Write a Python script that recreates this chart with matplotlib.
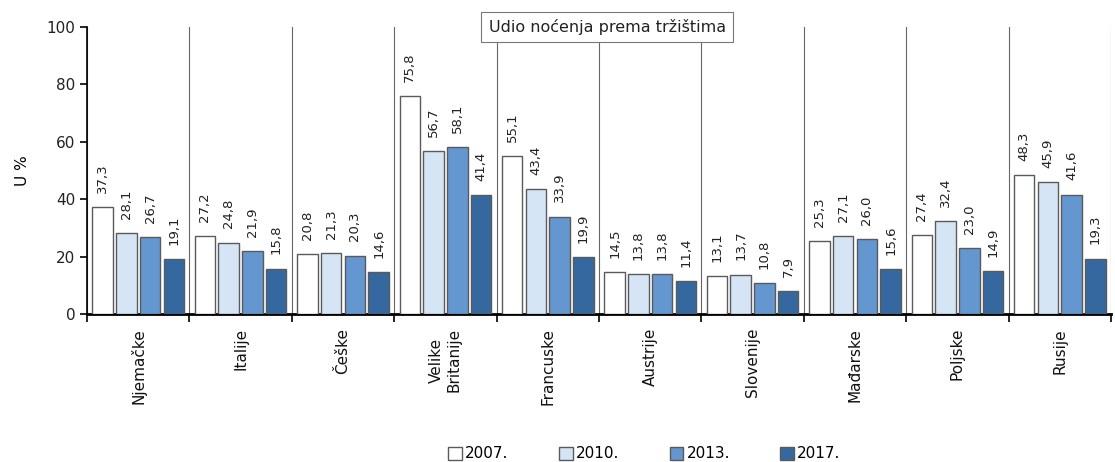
import numpy as np
import matplotlib
matplotlib.use('Agg')
from matplotlib import pyplot as plt

countries = ['Njemačke', 'Italije', 'Češke', 'Velike\nBritanije', 'Francuske',
             'Austrije', 'Slovenije', 'Mađarske', 'Poljske', 'Rusije']
years = ['2007.', '2010.', '2013.', '2017.']
v2007 = [37.3, 27.2, 20.8, 75.8, 55.1, 14.5, 13.1, 25.3, 27.4, 48.3]
v2010 = [28.1, 24.8, 21.3, 56.7, 43.4, 13.8, 13.7, 27.1, 32.4, 45.9]
v2013 = [26.7, 21.9, 20.3, 58.1, 33.9, 13.8, 10.8, 26.0, 23.0, 41.6]
v2017 = [19.1, 15.8, 14.6, 41.4, 19.9, 11.4, 7.9, 15.6, 14.9, 19.3]

COLORS = ['#ffffff', '#d5e5f5', '#6496cf', '#35689e']

fig = plt.figure(figsize=(11.15, 4.62), dpi=100)
ax = fig.add_axes([87 / 1115, 1 - 314 / 462, 1024 / 1115, 287 / 462])

x = np.arange(len(countries))
width = 0.2
step = 0.232
for i, vals in enumerate([v2007, v2010, v2013, v2017]):
    pos = x + (i - 1.5) * step
    ax.bar(pos, vals, width, color=COLORS[i], edgecolor='#5a5a5a',
           linewidth=1.0, label=years[i], zorder=3)
    for px, v in zip(pos, vals):
        ax.text(px, v + 5.0, ('%.1f' % v).replace('.', ','), rotation=90,
                ha='center', va='bottom', fontsize=9.5, color='#222222')

# group separators
for b in np.arange(len(countries) + 1) - 0.5:
    ax.axvline(b, color='#666666', linewidth=0.8, zorder=1)

ax.set_xlim(-0.5, len(countries) - 0.5)
ax.set_ylim(0, 100)
ax.set_yticks([0, 20, 40, 60, 80, 100])
ax.set_xticks(np.arange(len(countries) + 1) - 0.5)
ax.set_xticklabels([])
ax.set_xticks(x, minor=True)
ax.set_xticklabels(countries, minor=True, rotation=90, va='top', fontsize=11,
                   color='#111111', linespacing=1.2)
ax.tick_params(axis='x', which='minor', length=0, pad=10)
ax.tick_params(axis='x', which='major', length=6, width=1.2, direction='out')
ax.tick_params(axis='y', labelsize=11, length=5, width=1.2, colors='black',
               labelcolor='#222222')
for s in ['top', 'right']:
    ax.spines[s].set_visible(False)
ax.spines['left'].set_linewidth(1.2)
ax.spines['bottom'].set_linewidth(2)
ax.set_ylabel('U %', fontsize=11, labelpad=12)

ax.text(0.508, 1.0, 'Udio noćenja prema tržištima', transform=ax.transAxes,
        ha='center', va='center', fontsize=11.5, color='#222222', zorder=5,
        bbox=dict(boxstyle='square,pad=0.45', facecolor='white',
                  edgecolor='#777777', linewidth=0.8))

fig.legend(loc='center', bbox_to_anchor=(0.578, 1 - 454 / 462), ncol=4,
           frameon=False, fontsize=11, handlelength=0.9, handleheight=0.9,
           handletextpad=0.2, columnspacing=3.3)

fig.savefig('out.png', dpi=100)
